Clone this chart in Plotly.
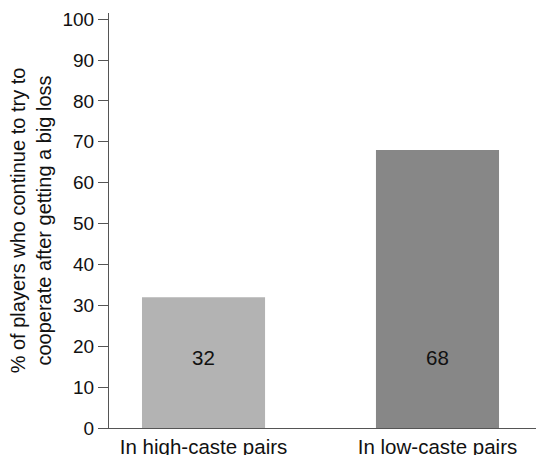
import plotly.graph_objects as go

categories = ["In high-caste pairs", "In low-caste pairs"]
values = [32, 68]
labels = ["32", "68"]
bar_colors = ["#b3b3b3", "#878787"]
y_ticks = [0, 10, 20, 30, 40, 50, 60, 70, 80, 90, 100]
y_title = "% of players who continue to try to<br>cooperate after getting a big loss"

FONT = "Liberation Sans, Arial, Helvetica, sans-serif"
LABEL_Y = 16.6  # vertical placement of the in-bar value labels

fig = go.Figure()
fig.add_trace(
    go.Bar(
        x=categories,
        y=values,
        marker=dict(color=bar_colors, line=dict(width=0)),
        width=0.526,
        hoverinfo="skip",
    )
)
fig.add_trace(
    go.Scatter(
        x=categories,
        y=[LABEL_Y] * len(categories),
        text=labels,
        mode="text",
        textposition="middle center",
        textfont=dict(family=FONT, size=20.5, color="#111111"),
        hoverinfo="skip",
    )
)

fig.update_layout(
    width=536,
    height=455,
    margin=dict(l=109, r=0, t=13, b=27),
    paper_bgcolor="white",
    plot_bgcolor="white",
    showlegend=False,
    font=dict(family=FONT, size=19, color="#111111"),
    xaxis=dict(
        range=[-0.404, 1.421],
        showline=True,
        linecolor="#555555",
        linewidth=1.2,
        ticks="",
        showgrid=False,
        zeroline=False,
        tickfont=dict(size=20.5, family=FONT, color="#111111"),
        automargin=False,
    ),
    yaxis=dict(
        range=[0, 101.5],
        tickvals=y_ticks,
        showline=True,
        linecolor="#555555",
        linewidth=1.2,
        ticks="outside",
        ticklen=10,
        tickcolor="#555555",
        tickwidth=1.2,
        showgrid=False,
        zeroline=False,
        tickfont=dict(size=19, family=FONT, color="#111111"),
        title=dict(text=y_title, font=dict(size=20, family=FONT, color="#111111"), standoff=5),
        automargin=False,
    ),
)

fig.write_html(
    "out.html",
    config={"displayModeBar": False},
    post_script="document.body.style.margin='0';",
)
